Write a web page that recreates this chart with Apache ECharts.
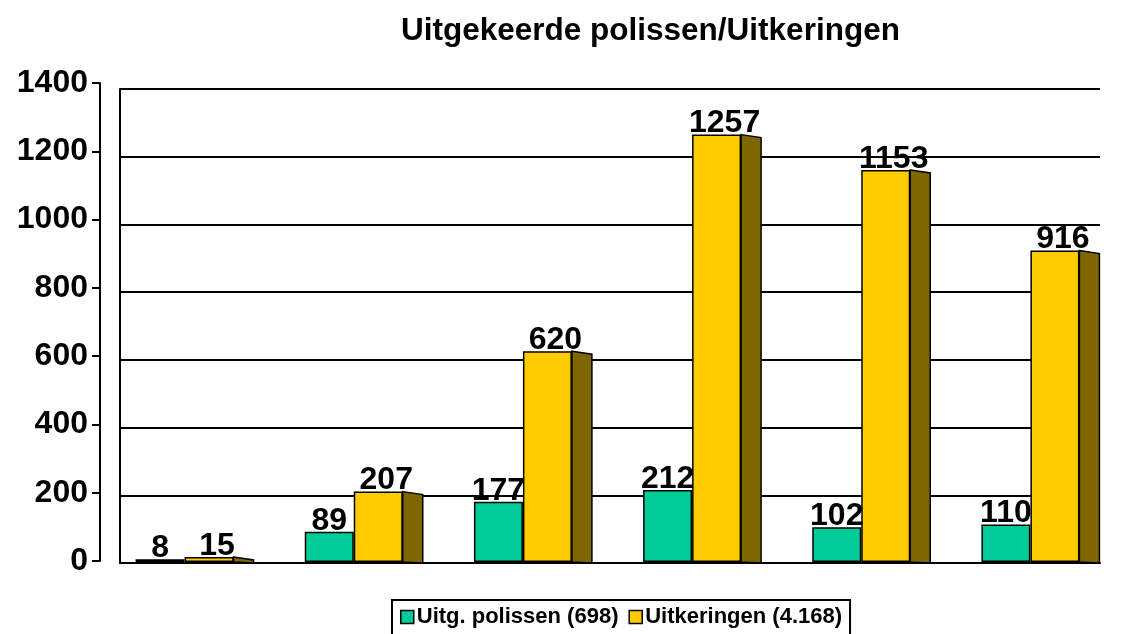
<!DOCTYPE html>
<html>
<head>
<meta charset="utf-8">
<script src="https://cdn.jsdelivr.net/npm/echarts@6/dist/echarts.min.js"></script>
<style>
  html, body { margin: 0; padding: 0; background: #fff; }
  #chart { width: 1125px; height: 634px; }
</style>
</head>
<body>
<div id="chart"></div>
<script>
// data
var categories = ['1', '2', '3', '4', '5', '6'];
var polissen = [8, 89, 177, 212, 102, 110];
var uitkeringen = [15, 207, 620, 1257, 1153, 916];
var seriesNames = ['Uitg. polissen (698)', 'Uitkeringen (4.168)'];
var titleText = 'Uitgekeerde polissen/Uitkeringen';

var font = 'Arial, "Liberation Sans", sans-serif';
var myChart = echarts.init(document.getElementById('chart'));

var option = {
  backgroundColor: '#fff',
  animation: false,
  textStyle: { fontFamily: font },
  title: {
    text: titleText,
    left: 396,
    top: 10,
    textStyle: { fontSize: 31.5, fontWeight: 'bold', color: '#000', fontFamily: font }
  },
  legend: {
    data: seriesNames,
    left: 392,
    top: 600,
    icon: 'rect',
    itemWidth: 13,
    itemHeight: 13,
    itemGap: 10,
    padding: [6, 8, 10, 8],
    borderColor: '#000',
    borderWidth: 2,
    textStyle: { fontSize: 22, fontWeight: 'bold', color: '#000', fontFamily: font, padding: [0, 0, 0, -2] },
    itemStyle: { borderColor: '#000', borderWidth: 1.5 }
  },
  grid: [
    // front axis
    { left: 100, right: 10, top: 83, bottom: 73 },
    // back wall
    { left: 120, right: 25, top: 89, bottom: 71 },
    // bars
    { left: 100, right: 10, top: 86, bottom: 72 }
  ],
  xAxis: [
    { gridIndex: 0, type: 'category', data: categories, show: false },
    {
      gridIndex: 1, type: 'category', data: categories,
      axisLine: { show: true, lineStyle: { color: '#000', width: 2 } },
      axisTick: { show: false }, axisLabel: { show: false }
    },
    { gridIndex: 2, type: 'category', data: categories, show: false }
  ],
  yAxis: [
    {
      gridIndex: 0, type: 'value', min: 0, max: 1400, interval: 200,
      axisLine: { show: true, lineStyle: { color: '#000', width: 2 } },
      axisTick: { show: true, length: 8, lineStyle: { color: '#000', width: 2 } },
      axisLabel: {
        fontSize: 32, fontWeight: 'bold', color: '#000', margin: 12, fontFamily: font,
        formatter: function (v) { return String(v); }
      },
      splitLine: { show: false }
    },
    {
      gridIndex: 1, type: 'value', min: 0, max: 1400, interval: 200,
      axisLine: { show: true, lineStyle: { color: '#000', width: 2 } },
      axisTick: { show: false }, axisLabel: { show: false },
      splitLine: { show: true, lineStyle: { color: '#000', width: 2 } }
    },
    { gridIndex: 2, type: 'value', min: 0, max: 1400, show: false, splitLine: { show: false } }
  ],
  series: [
    {
      name: seriesNames[0],
      type: 'bar',
      xAxisIndex: 2, yAxisIndex: 2,
      barWidth: 49,
      barGap: '0%',
      z: 3,
      itemStyle: { color: '#00CC99', borderColor: '#000', borderWidth: 1.5 },
      label: {
        show: true, position: 'top', distance: -5,
        fontSize: 32, fontWeight: 'bold', color: '#000', fontFamily: font
      },
      data: polissen
    },
    {
      name: seriesNames[1],
      type: 'bar',
      xAxisIndex: 2, yAxisIndex: 2,
      barWidth: 49,
      barGap: '0%',
      z: 3,
      itemStyle: { color: '#FFCC00', borderColor: '#000', borderWidth: 1.5 },
      label: {
        show: true, position: 'top', distance: -5, offset: [8, 0],
        fontSize: 32, fontWeight: 'bold', color: '#000', fontFamily: font
      },
      data: uitkeringen
    },
    {
      // 3d side of the yellow bars
      name: 'zijkant',
      type: 'custom',
      xAxisIndex: 2, yAxisIndex: 2,
      z: 2,
      silent: true,
      renderItem: function (params, api) {
        var top = api.coord([api.value(0), api.value(1)]);
        var base = api.coord([api.value(0), 0]);
        var x0 = top[0] + 49;
        var d = 20;
        return {
          type: 'polygon',
          shape: {
            points: [
              [x0, top[1]],
              [x0 + d, top[1] + 3],
              [x0 + d, base[1] + 1],
              [x0, base[1]]
            ]
          },
          style: { fill: '#806600', stroke: '#000', lineWidth: 1.5 }
        };
      },
      data: uitkeringen.map(function (v, i) { return [i, v]; })
    }
  ]
};
myChart.setOption(option);
</script>
</body>
</html>
